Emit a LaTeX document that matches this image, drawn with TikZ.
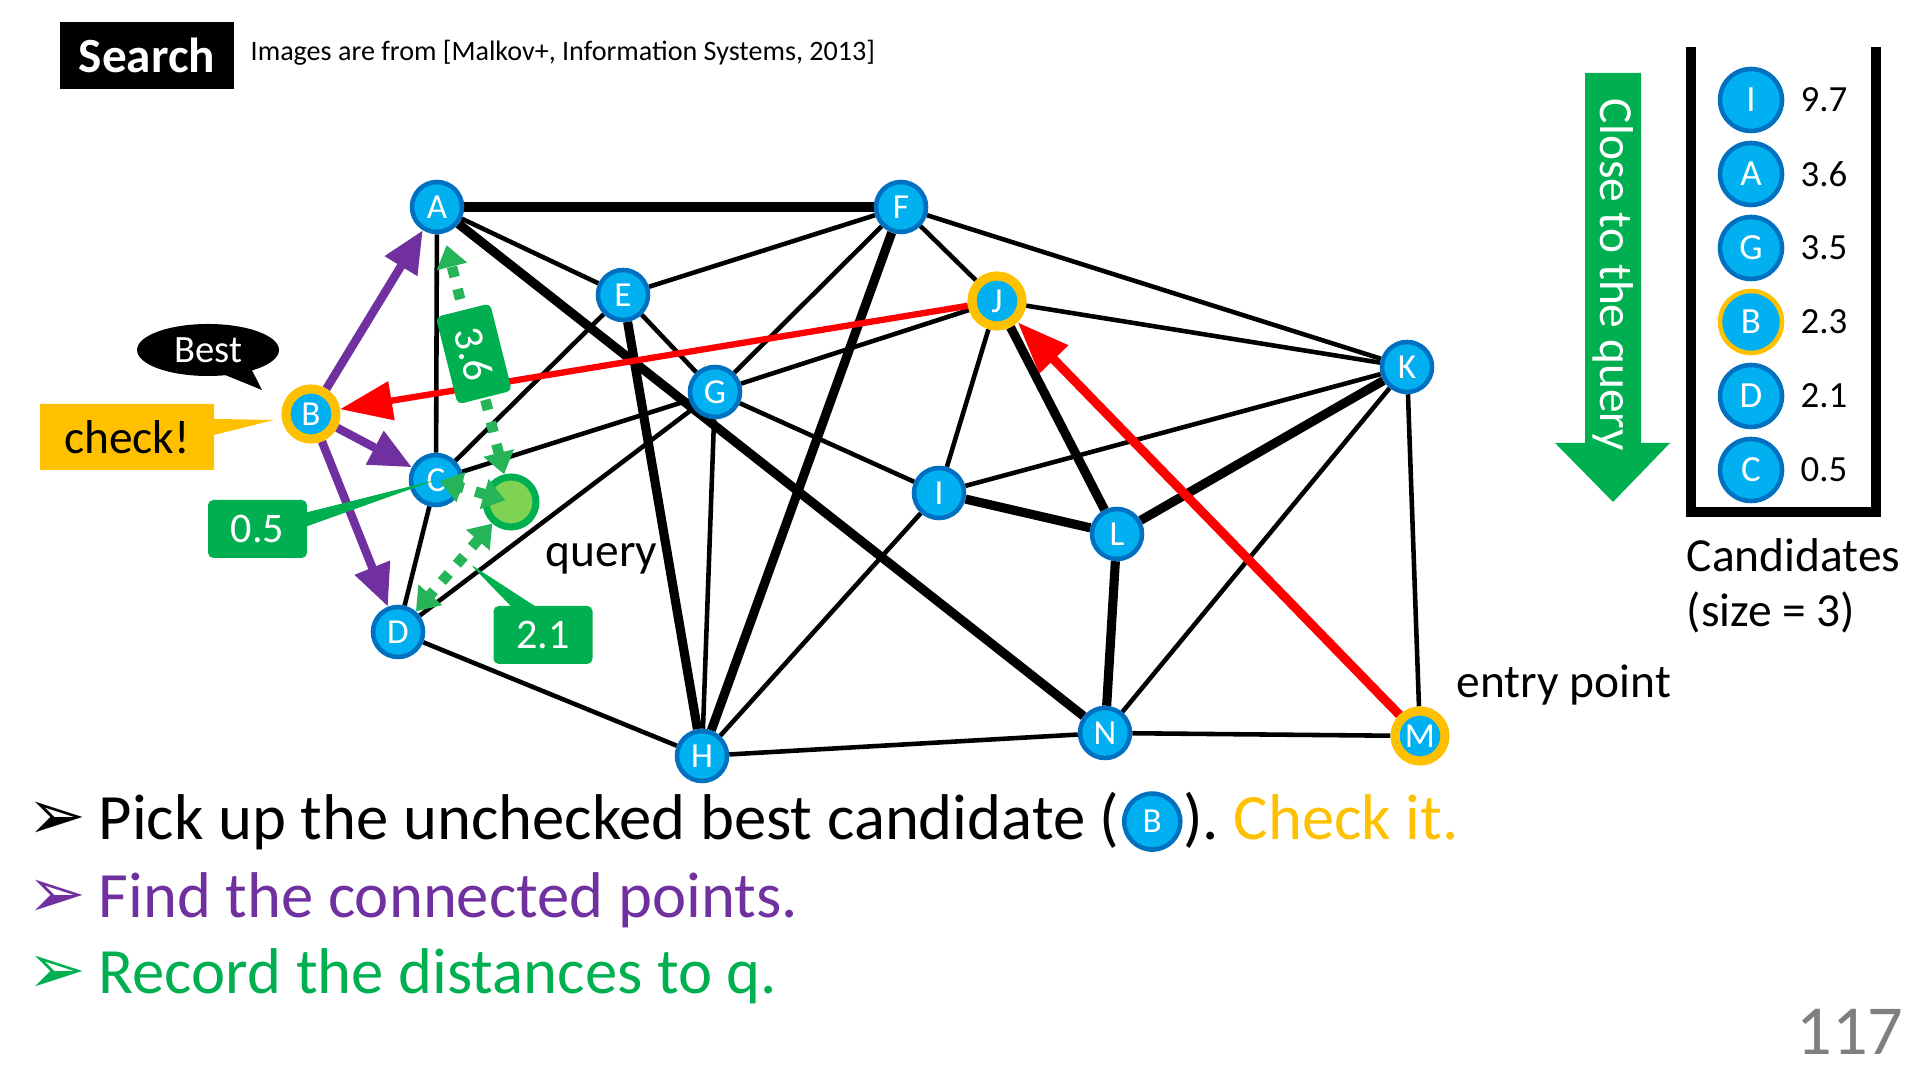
\documentclass[tikz,border=0pt]{standalone}
\usepackage{fontspec}
\setmainfont{Carlito}
\newfontfamily\dingfont{DejaVu Sans}
\usepackage{tikz}
\usetikzlibrary{arrows.meta,positioning,shapes.geometric,shapes.callouts,backgrounds}
\definecolor{ptBlue}{RGB}{0,176,240}
\definecolor{ringBlue}{RGB}{0,112,192}
\definecolor{checkYellow}{RGB}{255,192,0}
\definecolor{linkPurple}{RGB}{112,48,160}
\definecolor{routeRed}{RGB}{255,0,0}
\definecolor{distGreen}{RGB}{0,176,80}
\definecolor{dashGreen}{RGB}{38,180,88}
\definecolor{queryGreen}{RGB}{126,210,84}
\definecolor{pageGray}{RGB}{127,127,127}
\newcommand{\fsz}[1]{\fontsize{#1}{#1}\selectfont}

\begin{document}
\begin{tikzpicture}[
    every node/.style={inner sep=0pt},
    pt/.style={circle, fill=ptBlue, draw=ringBlue, line width=1.3pt,
      minimum size=0.5cm, text=white, font=\fsz{10}},
    chk/.style={pt, draw=checkYellow, line width=2.6pt},
    lnk/.style={line width=1.3pt},
    hvy/.style={line width=2.6pt},
    hop/.style={linkPurple, line width=2.4pt, -{Triangle[length=0.42cm,width=0.36cm]}},
    route/.style={routeRed, -{Triangle[length=0.52cm,width=0.38cm]}},
    dist/.style={dashGreen, line width=3pt, dash pattern=on 3pt off 3.5pt,
      {Triangle[length=0.22cm,width=0.3cm]}-{Triangle[length=0.22cm,width=0.3cm]}},
    tag/.style={rectangle callout, fill=distGreen, rounded corners=1.5pt, text=white,
      font=\fsz{12}, minimum width=0.99cm, minimum height=0.58cm},
    cand/.style={pt, minimum size=0.62cm, font=\fsz{10.5}},
    val/.style={anchor=west, font=\fsz{10.5}},
    say/.style={anchor=base west, font=\fsz{13.5}},
    bul/.style={anchor=base west, font=\dingfont\fsz{20}},
    line/.style={anchor=base west, font=\fsz{18.4}}
  ]
  \useasboundingbox (0,0) rectangle (19.2,10.8);

  % header
  \node[fill=black, minimum width=1.74cm, minimum height=0.67cm, text=white,
    font=\fsz{14}\bfseries] (title) at (1.47,10.245) {Search};
  \node[anchor=west, font=\fsz{8}] (cite) at (2.50,10.27)
    {Images are from [Malkov+, Information Systems, 2013]};

  % graph points
  \node[pt] (A) at (4.37,8.73) {A};
  \node[pt] (F) at (9.01,8.73) {F};
  \node[pt] (E) at (6.23,7.85) {E};
  \node[chk] (J) at (9.97,7.79) {J};
  \node[pt] (G) at (7.15,6.88) {G};
  \node[pt] (K) at (14.07,7.13) {K};
  \node[chk] (B) at (3.11,6.66) {B};
  \node[pt] (C) at (4.36,6.00) {C};
  \node[pt] (I) at (9.39,5.87) {I};
  \node[pt] (L) at (11.17,5.46) {L};
  \node[pt] (D) at (3.98,4.48) {D};
  \node[pt] (H) at (7.02,3.24) {H};
  \node[pt] (N) at (11.05,3.47) {N};
  \node[chk] (M) at (14.20,3.44) {M};
  \node[circle, fill=queryGreen, draw=distGreen, line width=2pt,
    minimum size=0.5cm] (q) at (5.11,5.78) {};
  \node[say] (qlabel) at (5.45,5.13) {query};
  \node[say] (entry) at (14.56,3.82) {entry point};

  \begin{scope}[on background layer]
    \foreach \u/\v in {A/E, A/C, F/E, F/G, F/J, F/K, E/G, E/C, G/J, G/C, G/D,
        G/H, G/I, J/I, J/K, K/I, K/N, K/M, I/H, N/M, N/H, D/H, C/D}
      \draw[lnk] (\u) -- (\v);
    \foreach \u/\v in {A/F, A/N, F/H, E/H, J/L, K/L, I/L, L/N}
      \draw[hvy] (\u) -- (\v);
    \draw[route, line width=1.8pt] (J) -- (B);
    \draw[route, line width=2.6pt] (M) -- (J);
    \draw[hop] (B) -- (A);
    \draw[hop] (B) -- (C);
    \draw[hop] (B) -- (D);
  \end{scope}

  % distances to the query
  \draw[dist, shorten >=0.12cm] (q) -- (A)
    node[sloped, pos=0.5, fill=distGreen, rounded corners=1.5pt, text=white,
      font=\fsz{12}, minimum width=0.9cm, minimum height=0.56cm] (d36) {3.6};
  \draw[dist, shorten >=0.04cm, shorten <=0.06cm] (q.center) -- (C.center);
  \draw[dist] (q) -- (D);
  \coordinate (tip21) at (4.70,5.16);
  \node[tag, callout absolute pointer={(C.center)}, callout pointer width=0.14cm]
    (d05) at (2.575,5.51) {0.5};
  \node[tag, callout absolute pointer={(tip21)}, callout pointer width=0.24cm]
    (d21) at (5.43,4.45) {2.1};

  % callouts at B
  \coordinate (bestTip) at (2.62,6.90);
  \coordinate (checkTip) at (2.74,6.60);
  \node[ellipse callout, fill=black, minimum width=1.42cm, minimum height=0.52cm,
    text=white, font=\fsz{11}, callout absolute pointer={(bestTip)},
    callout pointer arc=24] (best) at (2.08,7.30) {Best};
  \node[rectangle callout, fill=checkYellow, minimum width=1.74cm, minimum height=0.66cm,
    font=\fsz{13.5}, callout absolute pointer={(checkTip)}, callout pointer width=0.16cm]
    (check) at (1.27,6.43) {check!};

  % close-to-query arrow
  \fill[distGreen] (15.85,10.07) -- (16.41,10.07) -- (16.41,6.37) -- (16.70,6.37)
    -- (16.13,5.78) -- (15.55,6.37) -- (15.85,6.37) -- cycle;
  \node[rotate=-90, text=white, font=\fsz{13.5}] (closer) at (16.13,8.05) {Close to the query};

  % candidates
  \draw[line width=2.8pt] (16.91,10.33) -- (16.91,5.68) -- (18.76,5.68) -- (18.76,10.33);
  \foreach \n/\d/\rc [count=\k] in {I/9.7/ringBlue, A/3.6/ringBlue, G/3.5/ringBlue,
      B/2.3/checkYellow, D/2.1/ringBlue, C/0.5/ringBlue} {
    \node[cand, draw=\rc] (c\n) at (17.51,{10.54-0.74*\k}) {\n};
    \node[val] (v\n) at (18.00,{10.54-0.74*\k}) {\d};
  }
  \node[say] (capt1) at (16.86,5.08) {Candidates};
  \node[say] (capt2) at (16.86,4.53) {(size = 3)};

  % bullets
  \node[bul] (m1) at (0.27,2.40) {➢};
  \node[line] (l1a) at (0.98,2.40) {Pick up the unchecked best candidate (};
  \node[pt, minimum size=0.56cm, right=0.5pt of l1a] (bIn) {B};
  \node[line] (l1b) at (l1a.base -| bIn.east) {).\ \textcolor{checkYellow}{Check it.}};
  \node[bul, text=linkPurple] (m2) at (0.27,1.62) {➢};
  \node[line, text=linkPurple] (l2) at (0.98,1.62) {Find the connected points.};
  \node[bul, text=distGreen] (m3) at (0.27,0.86) {➢};
  \node[line, text=distGreen] (l3) at (0.98,0.86) {Record the distances to q.};

  \node[anchor=base east, font=\fsz{20}, text=pageGray] (page) at (19.04,0.25) {117};
\end{tikzpicture}
\end{document}
